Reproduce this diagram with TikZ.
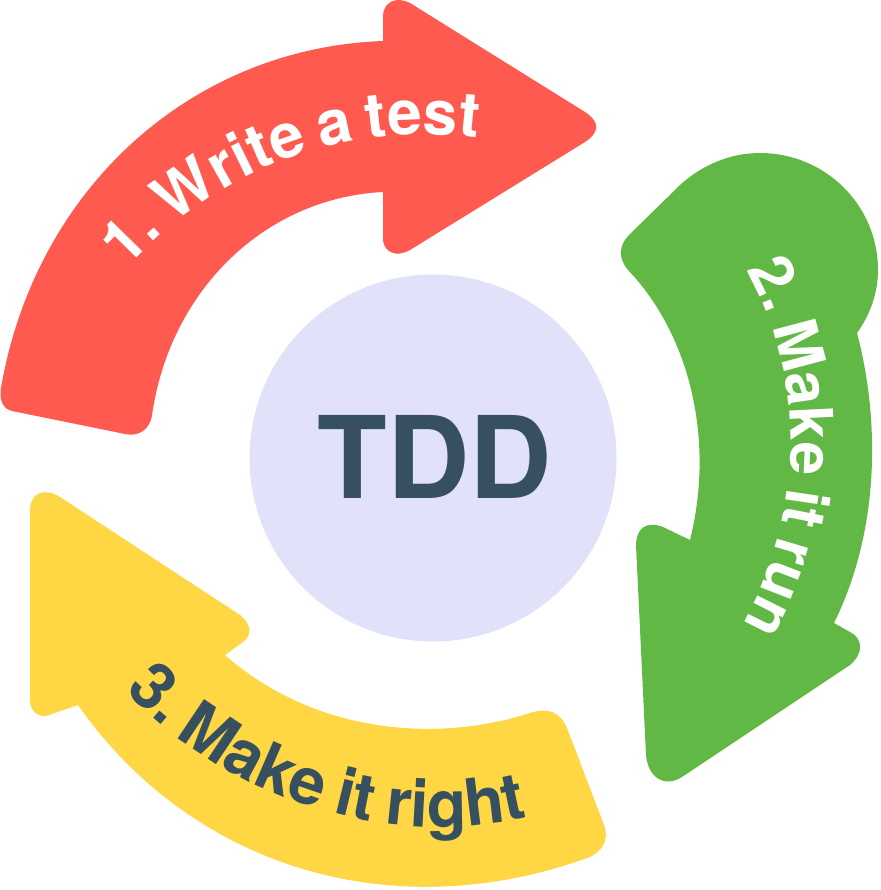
\documentclass[tikz,border=0pt]{standalone}
\usepackage{fontspec}
\setmainfont[WordSpace=0.75]{TeX Gyre Heros}
\usetikzlibrary{decorations.text}
\definecolor{redc}{HTML}{FF5A4F}
\definecolor{greenc}{HTML}{62B845}
\definecolor{yellowc}{HTML}{FFD644}
\definecolor{lav}{HTML}{E1E1FA}
\definecolor{ink}{HTML}{36505F}
\begin{document}
\begin{tikzpicture}[x=1pt,y=-1pt]
\useasboundingbox (0,0) rectangle (880,890);
% red
\fill[redc] (125,434) -- (12,411)
  .. controls (3,409) and (-1,400) .. (1,388)
  .. controls (35,190) and (190,48) .. (383,41)
  -- (383,15) .. controls (384,2) and (396,-4) .. (410,3)
  -- (585,112) .. controls (600,122) and (600,132) .. (585,142)
  -- (410,250) .. controls (396,258) and (384,252) .. (383,240)
  -- (383,192)
  .. controls (265,198) and (170,290) .. (152,415)
  .. controls (150,430) and (138,437) .. (125,434) -- cycle;
% green
\fill[greenc] (857,333) .. controls (870,315) and (878,293) .. (878,270)
  .. controls (878,205) and (825,153) .. (760,153)
  .. controls (730,153) and (702,165) .. (680,185) -- (628,236)
  .. controls (619,246) and (618,258) .. (628,270)
  .. controls (690,335) and (715,440) .. (690,540) -- (663,527)
  .. controls (645,520) and (636,530) .. (636,545) -- (646,755)
  .. controls (648,778) and (665,788) .. (682,777) -- (850,665)
  .. controls (865,652) and (862,638) .. (850,632) -- (834,623)
  .. controls (880,530) and (880,420) .. (857,333) -- cycle;
% yellow
\fill[yellowc] (30,510) .. controls (30,493) and (45,487) .. (60,497) -- (240,615)
  .. controls (252,625) and (252,635) .. (243,642) -- (225,655)
  .. controls (310,730) and (430,745) .. (530,713)
  .. controls (548,707) and (560,712) .. (567,728) -- (604,825)
  .. controls (610,842) and (600,852) .. (590,857)
  .. controls (390,930) and (190,865) .. (78,705) -- (52,714)
  .. controls (40,720) and (30,712) .. (30,700) -- cycle;
% centre
\node[circle,fill=lav,minimum size=367pt,inner sep=0pt] (hub) at (433,458) {};
\node[text=ink,font=\fontsize{114}{114}\selectfont\bfseries] (tdd) at (435,457) {TDD};
% labels
\path[decorate,decoration={text along path,text align=center,
  text={|\fontsize{62}{62}\bfseries\color{white}|1. Write a test}}]
  (125,270) .. controls (215,170) and (340,120) .. (480,138);
\path[decorate,decoration={text along path,text align=center,
  text={|\fontsize{60}{60}\bfseries\color{white}|2. Make it run}}]
  (742,262) .. controls (805,370) and (810,510) .. (738,632);
\path[decorate,decoration={text along path,text align=center,
  text={|\fontsize{65}{65}\bfseries\color{ink}|3. Make it right}}]
  (119,684) .. controls (215,793) and (385,855) .. (536,815);
\end{tikzpicture}
\end{document}
